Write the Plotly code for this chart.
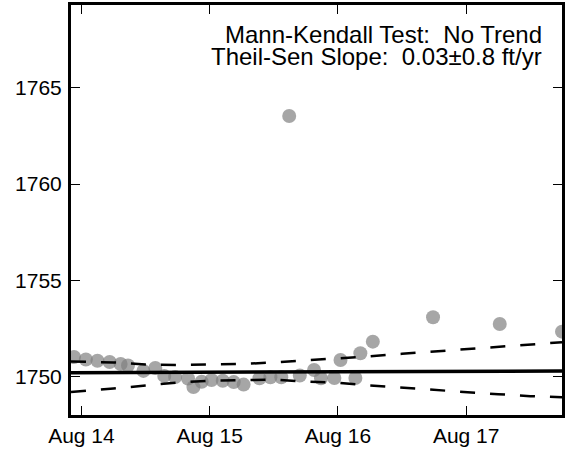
import plotly.graph_objects as go

# Observations
obs_time = [
    "2016-08-13 22:37", "2016-08-14 00:50", "2016-08-14 03:00", "2016-08-14 05:17",
    "2016-08-14 07:20", "2016-08-14 08:43", "2016-08-14 11:36", "2016-08-14 13:50",
    "2016-08-14 15:30", "2016-08-14 17:32", "2016-08-14 19:57", "2016-08-14 20:58",
    "2016-08-14 22:30", "2016-08-15 00:21", "2016-08-15 02:27", "2016-08-15 04:30",
    "2016-08-15 06:21", "2016-08-15 09:19", "2016-08-15 11:22", "2016-08-15 13:24",
    "2016-08-15 14:53", "2016-08-15 16:52", "2016-08-15 19:32", "2016-08-15 20:50",
    "2016-08-15 23:20", "2016-08-16 00:29", "2016-08-16 03:16", "2016-08-16 04:12",
    "2016-08-16 06:32", "2016-08-16 17:48", "2016-08-17 06:17", "2016-08-17 17:56",
]
obs_value = [
    1751.01, 1750.88, 1750.82, 1750.75,
    1750.65, 1750.57, 1750.29, 1750.44,
    1750.03, 1749.97, 1749.90, 1749.45,
    1749.73, 1749.82, 1749.78, 1749.71,
    1749.58, 1749.91, 1749.96, 1749.96,
    1763.53, 1750.05, 1750.34, 1749.91,
    1749.92, 1750.86, 1749.92, 1751.21,
    1751.81, 1753.08, 1752.73, 1752.33,
]

# Theil-Sen trend line
trend_time = ["2016-08-13 22:03", "2016-08-17 17:56"]
trend_value = [1750.20, 1750.28]

# Confidence bounds
ci_time = [
    "2016-08-13 22:03", "2016-08-14 00:00", "2016-08-14 06:00", "2016-08-14 12:00",
    "2016-08-14 18:00", "2016-08-15 00:00", "2016-08-15 06:00", "2016-08-15 12:00",
    "2016-08-15 18:00", "2016-08-16 00:00", "2016-08-16 06:00", "2016-08-16 12:00",
    "2016-08-16 18:00", "2016-08-17 00:00", "2016-08-17 06:00", "2016-08-17 12:00",
    "2016-08-17 17:56",
]
ci_upper = [
    1750.78, 1750.76, 1750.73, 1750.62, 1750.60, 1750.63, 1750.65, 1750.73,
    1750.83, 1750.94, 1751.05, 1751.18, 1751.30, 1751.40, 1751.53, 1751.66, 1751.78,
]
ci_lower = [
    1749.19, 1749.23, 1749.38, 1749.53, 1749.69, 1749.78, 1749.82, 1749.84,
    1749.74, 1749.68, 1749.53, 1749.41, 1749.30, 1749.18, 1749.08, 1748.98, 1748.92,
]

y_ticks = [1750, 1755, 1760, 1765]
x_ticks = ["2016-08-14", "2016-08-15", "2016-08-16", "2016-08-17"]
x_tick_labels = ["Aug 14", "Aug 15", "Aug 16", "Aug 17"]

line1 = "Mann-Kendall Test:  No Trend"
line2 = "Theil-Sen Slope:  0.03±0.8 ft/yr"

FONT = "Arial, Liberation Sans, Helvetica, sans-serif"

fig = go.Figure()
fig.add_trace(go.Scatter(
    x=obs_time, y=obs_value, mode="markers",
    marker=dict(size=14, color="rgba(128,128,128,0.7)", line=dict(width=0)),
    showlegend=False,
))
fig.add_trace(go.Scatter(
    x=ci_time, y=ci_upper, mode="lines",
    line=dict(color="black", width=2.5, dash="15px,15px"), showlegend=False,
))
fig.add_trace(go.Scatter(
    x=ci_time, y=ci_lower, mode="lines",
    line=dict(color="black", width=2.5, dash="15px,15px"), showlegend=False,
))
fig.add_trace(go.Scatter(
    x=trend_time, y=trend_value, mode="lines",
    line=dict(color="black", width=3.5), showlegend=False,
))

axis_common = dict(
    showline=True, linecolor="black", linewidth=3, mirror="ticks",
    ticks="inside", ticklen=9, tickwidth=1, tickcolor="black",
    showgrid=False, zeroline=False,
    tickfont=dict(family=FONT, size=21, color="black"),
)

fig.update_xaxes(
    type="date", range=["2016-08-13 22:03", "2016-08-17 17:56"],
    tickvals=x_ticks, ticktext=x_tick_labels, **axis_common,
)
fig.update_yaxes(
    range=[1748.0, 1769.3], tickvals=y_ticks,
    ticktext=[str(v) for v in y_ticks], ticklabelstandoff=2, **axis_common,
)

fig.add_annotation(
    text=line1, xref="paper", yref="paper", x=0.9636, y=0.929,
    xanchor="right", yanchor="middle", showarrow=False,
    font=dict(family=FONT, size=24, color="black"),
)
fig.add_annotation(
    text=line2, xref="paper", yref="paper", x=0.9636, y=0.874,
    xanchor="right", yanchor="middle", showarrow=False,
    font=dict(family=FONT, size=24, color="black"),
)

fig.update_layout(
    width=567, height=450,
    margin=dict(l=71, r=2, t=5, b=35),
    paper_bgcolor="white", plot_bgcolor="white",
)

fig.write_html(
    "out.html",
    config={"displayModeBar": False},
    post_script="document.body.style.margin='0';document.body.style.overflow='hidden';",
)
